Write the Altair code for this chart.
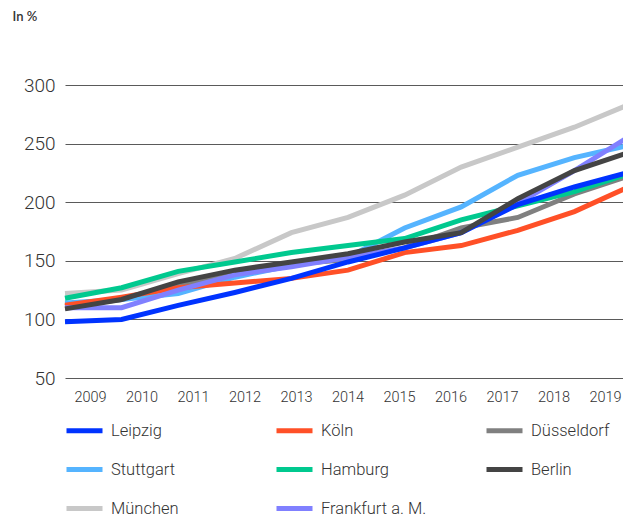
import altair as alt
import pandas as pd

years = list(range(2009, 2020))

leipzig = [98, 100, 112, 123, 135, 149, 161, 174, 198, 213, 226]
koeln = [112, 119, 127, 131, 135, 142, 157, 163, 176, 192, 214]
duesseldorf = [111, 117, 129, 140, 147, 151, 161, 178, 187, 207, 223]
stuttgart = [114, 117, 122, 136, 146, 153, 178, 196, 223, 238, 249]
hamburg = [118, 127, 141, 149, 157, 163, 169, 185, 197, 209, 225]
berlin = [109, 117, 132, 142, 149, 156, 166, 174, 203, 227, 243]
muenchen = [122, 125, 139, 152, 174, 187, 206, 230, 247, 264, 284]
frankfurt = [110, 110, 125, 138, 145, 153, 161, 174, 199, 227, 257]

legend_order = ["Leipzig", "Köln", "Düsseldorf", "Stuttgart", "Hamburg",
                "Berlin", "München", "Frankfurt a. M."]
colors = ["#0033ff", "#ff5027", "#808080", "#55b4ff", "#00c98f",
          "#444444", "#c8c8c8", "#8080ff"]

series = {
    "Leipzig": leipzig, "Köln": koeln, "Düsseldorf": duesseldorf,
    "Stuttgart": stuttgart, "Hamburg": hamburg, "Berlin": berlin,
    "München": muenchen, "Frankfurt a. M.": frankfurt,
}
# drawing order (bottom to top)
draw_order = ["München", "Düsseldorf", "Stuttgart", "Köln",
              "Frankfurt a. M.", "Hamburg", "Leipzig", "Berlin"]

rows = []
for i, name in enumerate(draw_order):
    for y, v in zip(years, series[name]):
        rows.append({"city": name, "year": y, "value": v, "z": i})
df = pd.DataFrame(rows)
labels_df = pd.DataFrame({"year": years})

lines = alt.Chart(df).mark_line(strokeWidth=5, strokeCap="butt").encode(
    x=alt.X("year:Q", scale=alt.Scale(domain=[2009, 2019], range=[1, 567]), axis=None),
    y=alt.Y("value:Q",
            scale=alt.Scale(domain=[50, 300], nice=False, zero=False),
            axis=alt.Axis(values=[50, 100, 150, 200, 250, 300], title="In %",
                          titleAngle=0, titleX=-52, titleY=-75, titleAlign="left",
                          titleBaseline="top", titleFont="Lato", titleFontSize=13,
                          titleFontWeight=600, titleColor="#333",
                          labelFont="Roboto", labelFontSize=19, labelFontWeight=300,
                          labelColor="#333", labelPadding=9, ticks=False,
                          domain=False, grid=True, gridColor="#5a5a5a",
                          gridWidth=1)),
    color=alt.Color("city:N",
                    scale=alt.Scale(domain=legend_order, range=colors),
                    legend=alt.Legend(orient="none", legendX=0, legendY=325,
                                      direction="horizontal",
                                      columns=3, symbolType="stroke",
                                      symbolSize=1296, symbolStrokeWidth=5,
                                      labelFont="Roboto", labelFontSize=16.5,
                                      labelFontWeight=300,
                                      labelColor="#333", labelOffset=6,
                                      labelLimit=300,
                                      rowPadding=8, columnPadding=49,
                                      gridAlign="all", title=None, padding=0)),
    detail="z:O",
)

axis_layer = alt.Chart(labels_df).mark_point(opacity=0).encode(
    x=alt.X("year:Q", scale=alt.Scale(domain=[2009, 2019], range=[26, 541]),
            axis=alt.Axis(values=years, format="d", orient="bottom", title=None,
                          labelFont="Roboto", labelFontSize=14.5, labelFontWeight=300,
                          labelColor="#333", labelOverlap=False, labelFlush=False,
                          labelPadding=12, ticks=False, domain=False, grid=False)),
    y=alt.value(0),
)

chart = alt.layer(lines, axis_layer).resolve_scale(x="independent").properties(
    width=559, height=293,
    padding={"left": 56, "top": 77, "right": 0, "bottom": 140},
    autosize=alt.AutoSizeParams(type="none"),
).configure_view(stroke=None)

chart.save("out.html", embed_options={"renderer": "svg", "actions": False})
